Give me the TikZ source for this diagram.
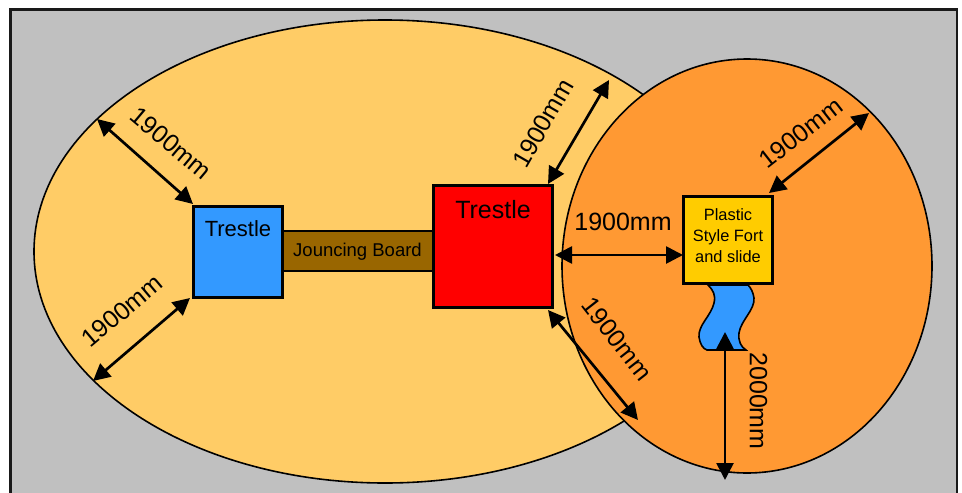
\documentclass[tikz,border=0pt]{standalone}
\usepackage{fontspec}
\setmainfont{Liberation Sans}
\usetikzlibrary{arrows.meta}
\definecolor{bggrey}{HTML}{C0C0C0}
\definecolor{lightor}{HTML}{FFCC66}
\definecolor{darkor}{HTML}{FF9933}
\definecolor{trblue}{HTML}{3399FF}
\definecolor{boardbr}{HTML}{996600}
\definecolor{fortyl}{HTML}{FFCC00}
\tikzset{
 boxnode/.style={draw=black,line width=2.8pt,minimum width=#1,inner sep=0pt,outer sep=0pt,align=center,text=black},
 dim/.style={line width=2.7pt,{Triangle[length=17pt,width=17pt]}-{Triangle[length=17pt,width=17pt]}},
 dimlabel/.style={font=\fontsize{25pt}{27pt}\selectfont,inner sep=0pt},
 area/.style={draw=black,line width=1.6pt}
}
\begin{document}
\begin{tikzpicture}[x=1pt,y=-1pt]
\useasboundingbox (0,0) rectangle (962,493);
\fill[white] (0,0) rectangle (962,493);
\begin{scope}
\clip (0,0) rectangle (962,493);
\draw[fill=bggrey,draw=black!90,line width=2.2pt] (10.5,9.5) rectangle (957,500);
\end{scope}
\draw[area,fill=lightor] (385,251.5) ellipse [x radius=351,y radius=231.5];
\draw[area,fill=darkor] (747,266) ellipse [x radius=185,y radius=207];
\draw[line width=1.6pt,fill=trblue] (708,285) .. controls (713,290) and (716,295) .. (714,303)
 .. controls (711,316) and (698,325) .. (699,337) .. controls (700,344) and (703,349) .. (707,350)
 -- (746,350) .. controls (741,347) and (738,341) .. (739,333)
 .. controls (741,320) and (755,310) .. (754,298) .. controls (753,292) and (751,288) .. (748,285) -- cycle;
\node[boxnode=89pt,fill=trblue,minimum height=91pt,anchor=north west] (t1) at (193.5,206.5) {};
\node[font=\fontsize{22pt}{24pt}\selectfont] (t1l) at (238,229) {Trestle};
\node[boxnode=151pt,fill=boardbr,minimum height=40pt,anchor=north west] (jb) at (282.5,231) {};
\node[font=\fontsize{18.5pt}{20pt}\selectfont,inner sep=0pt] (jbl) at (357.5,252) {Jouncing Board};
\node[boxnode=119pt,fill=red,minimum height=122pt,anchor=north west] (t2) at (433.5,185.5) {};
\node[font=\fontsize{25pt}{27pt}\selectfont] (t2l) at (493,209.5) {Trestle};
\node[boxnode=89pt,fill=fortyl,minimum height=87pt,anchor=north west] (fort) at (683.5,196.5) {};
\node[font=\fontsize{16.4pt}{21pt}\selectfont,align=center,inner sep=0pt] (fortl) at (728,236) {Plastic\\Style Fort\\and slide};
\coordinate (a1) at (97,119); \coordinate (a2) at (193,204);
\coordinate (b1) at (93,381); \coordinate (b2) at (190,298);
\coordinate (c1) at (609,80); \coordinate (c2) at (548,184);
\coordinate (d1) at (555,255); \coordinate (d2) at (683,255);
\coordinate (e1) at (548,310); \coordinate (e2) at (638,420);
\coordinate (f1) at (869,113); \coordinate (f2) at (769,193);
\coordinate (g1) at (725,332); \coordinate (g2) at (725,480);
\draw[dim] (a1) -- (a2);
\draw[dim] (b1) -- (b2);
\draw[dim] (c1) -- (c2);
\draw[dim] (d1) -- (d2);
\draw[dim] (e1) -- (e2);
\draw[dim] (f1) -- (f2);
\draw[dim] (g1) -- (g2);
\node[dimlabel,rotate=-40] (la) at (171,143) {1900mm};
\node[dimlabel,rotate=40] (lb) at (122,311) {1900mm};
\node[dimlabel,rotate=60] (lc) at (543,123) {1900mm};
\node[dimlabel] (ld) at (623,222) {1900mm};
\node[dimlabel,rotate=-52] (le) at (617,339) {1900mm};
\node[dimlabel,rotate=38] (lf) at (801,133) {1900mm};
\node[dimlabel,rotate=-90] (lg) at (758.5,401) {2000mm};
\end{tikzpicture}
\end{document}
